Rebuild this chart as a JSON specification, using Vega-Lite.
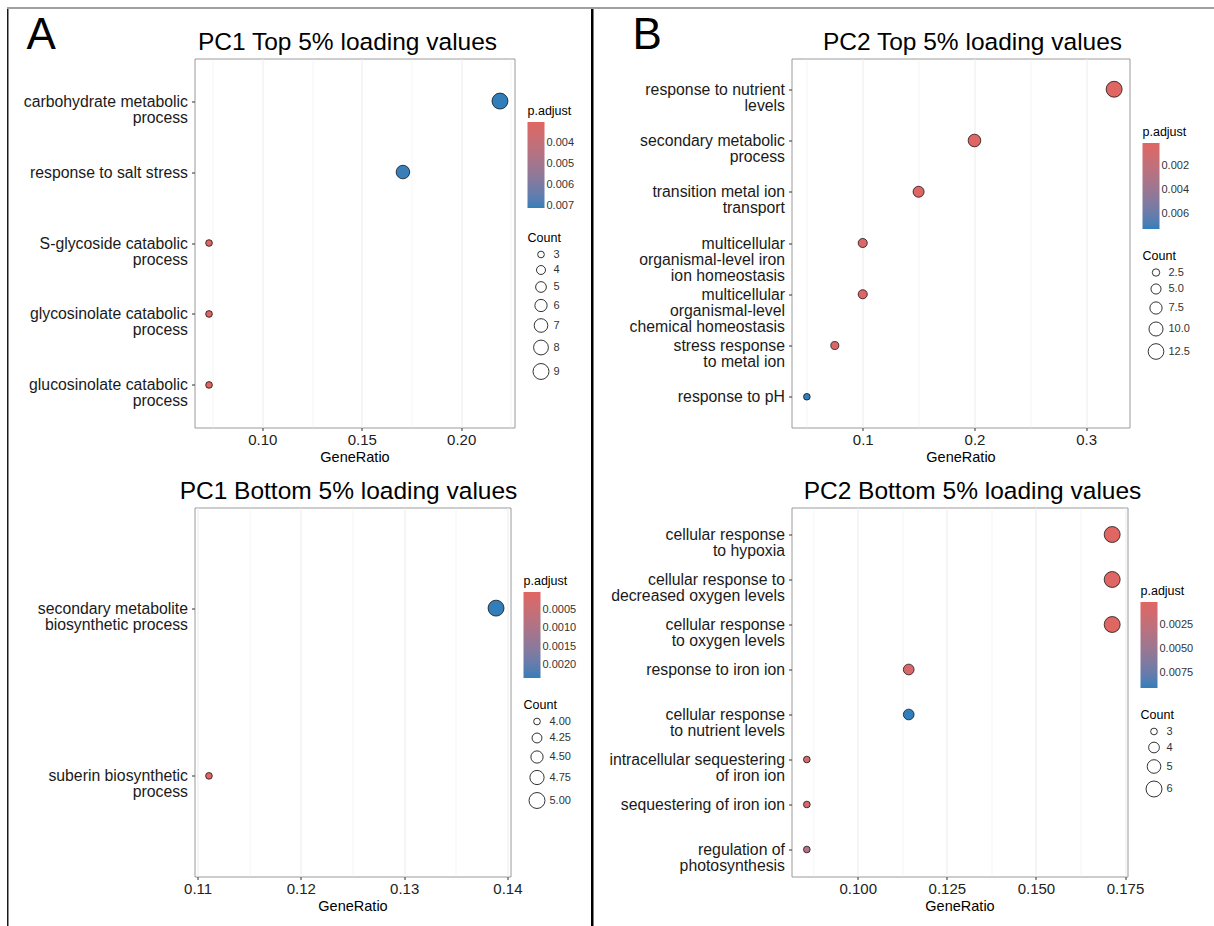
{
  "$schema": "https://vega.github.io/schema/vega-lite/v6.json",
  "padding": {"left": 7, "top": 7, "right": 0, "bottom": 0},
  "datasets": {
    "pc1_top": [
      {"Description": "carbohydrate metabolic\nprocess", "GeneRatio": 0.2195, "Count": 9, "padj": 0.0071},
      {"Description": "response to salt stress", "GeneRatio": 0.1707, "Count": 7, "padj": 0.00705},
      {"Description": "S-glycoside catabolic\nprocess", "GeneRatio": 0.0732, "Count": 3, "padj": 0.003},
      {"Description": "glycosinolate catabolic\nprocess", "GeneRatio": 0.0732, "Count": 3, "padj": 0.003},
      {"Description": "glucosinolate catabolic\nprocess", "GeneRatio": 0.0732, "Count": 3, "padj": 0.003}
    ],
    "pc1_bottom": [
      {"Description": "secondary metabolite\nbiosynthetic process", "GeneRatio": 0.1389, "Count": 5, "padj": 0.00234},
      {"Description": "suberin biosynthetic\nprocess", "GeneRatio": 0.1111, "Count": 4, "padj": 0.000014}
    ],
    "pc2_top": [
      {"Description": "response to nutrient\nlevels", "GeneRatio": 0.325, "Count": 13, "padj": 0.00007},
      {"Description": "secondary metabolic\nprocess", "GeneRatio": 0.2, "Count": 8, "padj": 0.00015},
      {"Description": "transition metal ion\ntransport", "GeneRatio": 0.15, "Count": 6, "padj": 0.0002},
      {"Description": "multicellular\norganismal-level iron\nion homeostasis", "GeneRatio": 0.1, "Count": 4, "padj": 0.0003},
      {"Description": "multicellular\norganismal-level\nchemical homeostasis", "GeneRatio": 0.1, "Count": 4, "padj": 0.0003},
      {"Description": "stress response\nto metal ion", "GeneRatio": 0.075, "Count": 3, "padj": 0.0004},
      {"Description": "response to pH", "GeneRatio": 0.05, "Count": 2, "padj": 0.0073}
    ],
    "pc2_bottom": [
      {"Description": "cellular response\nto hypoxia", "GeneRatio": 0.1714, "Count": 6, "padj": 0.00013},
      {"Description": "cellular response to\ndecreased oxygen levels", "GeneRatio": 0.1714, "Count": 6, "padj": 0.00013},
      {"Description": "cellular response\nto oxygen levels", "GeneRatio": 0.1714, "Count": 6, "padj": 0.00015},
      {"Description": "response to iron ion", "GeneRatio": 0.1143, "Count": 4, "padj": 0.0006},
      {"Description": "cellular response\nto nutrient levels", "GeneRatio": 0.1143, "Count": 4, "padj": 0.009},
      {"Description": "intracellular sequestering\nof iron ion", "GeneRatio": 0.0857, "Count": 3, "padj": 0.001},
      {"Description": "sequestering of iron ion", "GeneRatio": 0.0857, "Count": 3, "padj": 0.001},
      {"Description": "regulation of\nphotosynthesis", "GeneRatio": 0.0857, "Count": 3, "padj": 0.0033}
    ]
  },
  "concat": [
    {
      "width": 1207, "height": 2,
      "view": {"fill": "#a0a0a0", "stroke": null},
      "data": {"values": []},
      "mark": "rule",
      "encoding": {}
    },
    {
      "concat": [
        {
          "width": 1.5, "height": 917,
          "view": {"fill": "#1a1a1a", "stroke": null},
          "data": {"values": []},
          "mark": "rule",
          "encoding": {}
        },
        {
          "concat": [
            {
              "width": 1, "height": 1,
              "view": {"stroke": null},
              "title": {"text": "A", "orient": "bottom", "fontSize": 44, "fontWeight": "normal", "anchor": "start", "frame": "group", "dx": -168, "offset": 4, "baseline": "top", "color": "black"},
              "data": {"values": []},
              "mark": "rule",
              "encoding": {}
            },
            {
              "concat": [
                {
                  "data": {"name": "pc1_top"},
                  "width": 320, "height": 369,
                  "title": {"text": "PC1 Top 5% loading values", "dx": -7},
                  "mark": {"type": "circle", "opacity": 1, "stroke": "black", "strokeWidth": 0.7},
                  "encoding": {
                    "x": {"field": "GeneRatio", "type": "quantitative", "title": "GeneRatio",
                      "scale": {"domain": [0.0659, 0.2268], "nice": false, "zero": false},
                      "axis": {"values": [0.075, 0.1, 0.125, 0.15, 0.175, 0.2, 0.225],
                        "labelExpr": "abs(datum.value * 20 - round(datum.value * 20)) < 1e-6 ? format(datum.value, '.2f') : ''",
                        "gridWidth": {"condition": {"test": "abs(datum.value * 20 - round(datum.value * 20)) < 1e-6", "value": 1}, "value": 0.5},
                        "tickOpacity": {"condition": {"test": "abs(datum.value * 20 - round(datum.value * 20)) < 1e-6", "value": 1}, "value": 0}}},
                    "y": {"field": "Description", "type": "nominal", "sort": null, "title": null,
                      "scale": {"type": "point", "padding": 0.6},
                      "axis": {"labelExpr": "split(datum.label, '\\n')"}},
                    "color": {"field": "padj", "type": "quantitative",
                      "scale": {"domain": [0.0071, 0.003], "range": ["#327eba", "#e06663"], "interpolate": "lab"},
                      "legend": {"title": "p.adjust", "values": [0.004, 0.005, 0.006, 0.007], "format": ".3f"}},
                    "size": {"field": "Count", "type": "quantitative",
                      "scale": {"domain": [3, 9], "range": [45, 255], "zero": false},
                      "legend": {"title": "Count", "values": [3, 4, 5, 6, 7, 8, 9], "format": "d"}}
                  }
                },
                {
                  "data": {"name": "pc1_bottom"},
                  "width": 316, "height": 369,
                  "title": {"text": "PC1 Bottom 5% loading values", "dx": -4},
                  "mark": {"type": "circle", "opacity": 1, "stroke": "black", "strokeWidth": 0.7},
                  "encoding": {
                    "x": {"field": "GeneRatio", "type": "quantitative", "title": "GeneRatio",
                      "scale": {"domain": [0.1097, 0.1403], "nice": false, "zero": false},
                      "axis": {"values": [0.11, 0.115, 0.12, 0.125, 0.13, 0.135, 0.14],
                        "labelExpr": "abs(datum.value * 100 - round(datum.value * 100)) < 1e-6 ? format(datum.value, '.2f') : ''",
                        "gridWidth": {"condition": {"test": "abs(datum.value * 100 - round(datum.value * 100)) < 1e-6", "value": 1}, "value": 0.5},
                        "tickOpacity": {"condition": {"test": "abs(datum.value * 100 - round(datum.value * 100)) < 1e-6", "value": 1}, "value": 0}}},
                    "y": {"field": "Description", "type": "nominal", "sort": null, "title": null,
                      "scale": {"type": "point", "padding": 0.6},
                      "axis": {"labelExpr": "split(datum.label, '\\n')"}},
                    "color": {"field": "padj", "type": "quantitative",
                      "scale": {"domain": [0.00234, 0.000014], "range": ["#327eba", "#e06663"], "interpolate": "lab"},
                      "legend": {"title": "p.adjust", "values": [0.0005, 0.001, 0.0015, 0.002], "format": ".4f"}},
                    "size": {"field": "Count", "type": "quantitative",
                      "scale": {"domain": [4, 5], "range": [45, 255], "zero": false},
                      "legend": {"title": "Count", "values": [4, 4.25, 4.5, 4.75, 5], "format": ".2f"}}
                  }
                }
              ],
              "columns": 1, "spacing": 14,
              "resolve": {"scale": {"color": "independent", "size": "independent"}}
            }
          ],
          "columns": 1, "spacing": -28.5,
          "resolve": {"scale": {"color": "independent", "size": "independent"}}
        },
        {
          "width": 2.5, "height": 917,
          "view": {"fill": "black", "stroke": null},
          "data": {"values": []},
          "mark": "rule",
          "encoding": {}
        },
        {
          "concat": [
            {
              "width": 1, "height": 1,
              "view": {"stroke": null},
              "title": {"text": "B", "orient": "bottom", "fontSize": 44, "fontWeight": "normal", "anchor": "start", "frame": "group", "dx": -159, "offset": 4, "baseline": "top", "color": "black"},
              "data": {"values": []},
              "mark": "rule",
              "encoding": {}
            },
            {
              "concat": [
                {
                  "data": {"name": "pc2_top"},
                  "width": 338, "height": 369,
                  "title": {"text": "PC2 Top 5% loading values", "dx": 12},
                  "mark": {"type": "circle", "opacity": 1, "stroke": "black", "strokeWidth": 0.7},
                  "encoding": {
                    "x": {"field": "GeneRatio", "type": "quantitative", "title": "GeneRatio",
                      "scale": {"domain": [0.03625, 0.33875], "nice": false, "zero": false},
                      "axis": {"values": [0.05, 0.1, 0.15, 0.2, 0.25, 0.3],
                        "labelExpr": "abs(datum.value * 10 - round(datum.value * 10)) < 1e-6 ? format(datum.value, '.1f') : ''",
                        "gridWidth": {"condition": {"test": "abs(datum.value * 10 - round(datum.value * 10)) < 1e-6", "value": 1}, "value": 0.5},
                        "tickOpacity": {"condition": {"test": "abs(datum.value * 10 - round(datum.value * 10)) < 1e-6", "value": 1}, "value": 0}}},
                    "y": {"field": "Description", "type": "nominal", "sort": null, "title": null,
                      "scale": {"type": "point", "padding": 0.6},
                      "axis": {"labelExpr": "split(datum.label, '\\n')"}},
                    "color": {"field": "padj", "type": "quantitative",
                      "scale": {"domain": [0.0073, 0.00007], "range": ["#327eba", "#e06663"], "interpolate": "lab"},
                      "legend": {"title": "p.adjust", "values": [0.002, 0.004, 0.006], "format": ".3f"}},
                    "size": {"field": "Count", "type": "quantitative",
                      "scale": {"domain": [2, 13], "range": [45, 255], "zero": false},
                      "legend": {"title": "Count", "values": [2.5, 5, 7.5, 10, 12.5], "format": ".1f"}}
                  }
                },
                {
                  "data": {"name": "pc2_bottom"},
                  "width": 336, "height": 369,
                  "title": {"text": "PC2 Bottom 5% loading values", "dx": 13},
                  "mark": {"type": "circle", "opacity": 1, "stroke": "black", "strokeWidth": 0.7},
                  "encoding": {
                    "x": {"field": "GeneRatio", "type": "quantitative", "title": "GeneRatio",
                      "scale": {"domain": [0.0814, 0.1757], "nice": false, "zero": false},
                      "axis": {"values": [0.0875, 0.1, 0.1125, 0.125, 0.1375, 0.15, 0.1625, 0.175],
                        "labelExpr": "abs(datum.value * 40 - round(datum.value * 40)) < 1e-6 ? format(datum.value, '.3f') : ''",
                        "gridWidth": {"condition": {"test": "abs(datum.value * 40 - round(datum.value * 40)) < 1e-6", "value": 1}, "value": 0.5},
                        "tickOpacity": {"condition": {"test": "abs(datum.value * 40 - round(datum.value * 40)) < 1e-6", "value": 1}, "value": 0}}},
                    "y": {"field": "Description", "type": "nominal", "sort": null, "title": null,
                      "scale": {"type": "point", "padding": 0.6},
                      "axis": {"labelExpr": "split(datum.label, '\\n')"}},
                    "color": {"field": "padj", "type": "quantitative",
                      "scale": {"domain": [0.009, 0.00013], "range": ["#327eba", "#e06663"], "interpolate": "lab"},
                      "legend": {"title": "p.adjust", "values": [0.0025, 0.005, 0.0075], "format": ".4f"}},
                    "size": {"field": "Count", "type": "quantitative",
                      "scale": {"domain": [3, 6], "range": [45, 255], "zero": false},
                      "legend": {"title": "Count", "values": [3, 4, 5, 6], "format": "d"}}
                  }
                }
              ],
              "columns": 1, "spacing": 14,
              "resolve": {"scale": {"color": "independent", "size": "independent"}}
            }
          ],
          "columns": 1, "spacing": -28.5,
          "resolve": {"scale": {"color": "independent", "size": "independent"}}
        }
      ],
      "columns": 4, "spacing": 13.5,
      "resolve": {"scale": {"color": "independent", "size": "independent"}}
    }
  ],
  "columns": 1, "spacing": 0,
  "resolve": {"scale": {"color": "independent", "size": "independent"}},
  "config": {
    "font": "Liberation Sans",
    "view": {"stroke": "#9a9a9a", "strokeWidth": 1},
    "axis": {"domain": false, "gridColor": "#EBEBEB", "tickColor": "#333333", "tickSize": 3, "labelColor": "#222222",
      "titleFontWeight": "normal", "titleColor": "black", "titleFontSize": 14.5},
    "axisX": {"labelFontSize": 15, "labelPadding": 2, "titlePadding": 3, "labelFlush": false},
    "axisY": {"labelFontSize": 15.8, "labelColor": "#1a1a1a", "labelPadding": 4, "labelLineHeight": 16, "labelLimit": 400, "labelOverlap": false, "gridWidth": 1},
    "title": {"fontSize": 24.5, "fontWeight": "normal", "color": "black", "anchor": "middle", "frame": "group", "baseline": "alphabetic", "offset": 3},
    "legend": {
      "titleFontSize": 12.5, "titleFontWeight": "normal", "titleColor": "black", "titlePadding": 5,
      "labelFontSize": 11, "labelColor": "#333333", "labelOffset": 4, "labelOverlap": false,
      "gradientLength": 86, "gradientThickness": 17, "gradientStrokeWidth": 0,
      "offset": 13, "padding": 0, "rowPadding": 3.5, "symbolOffset": 5,
      "symbolFillColor": "white", "symbolStrokeColor": "black", "symbolStrokeWidth": 0.8,
      "layout": {"offset": 13, "direction": "horizontal", "left": {"direction": "vertical"}, "right": {"direction": "vertical", "anchor": "middle", "margin": 20}}
    }
  }
}
